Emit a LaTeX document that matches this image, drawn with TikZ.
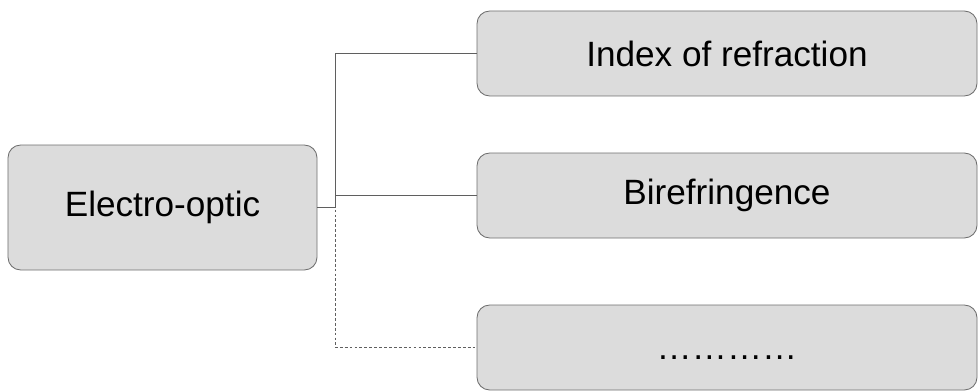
\documentclass[tikz,border=0pt]{standalone}
\usepackage{fontspec}
\setmainfont{Liberation Sans}
\definecolor{boxgray}{RGB}{220, 220, 220}
\definecolor{edgegray}{RGB}{110, 110, 110}
\definecolor{linegray}{RGB}{95, 95, 95}
\usetikzlibrary{positioning, calc}

\begin{document}
\begin{tikzpicture}[
  gbox/.style={draw=edgegray, fill=boxgray, rounded corners=9pt, line width=0.6pt, align=center, font=\fontsize{25}{30}\selectfont, inner sep=0pt},
  link/.style={draw=linegray, line width=0.5pt}
]
  \useasboundingbox (0, 0) rectangle (24.45, 9.75);

  \node[gbox, minimum width=7.725cm, minimum height=3.125cm] (eo) at (4.0625, 4.5625) {Electro-optic};

  \node[gbox, minimum width=12.5cm, minimum height=2.125cm] (idx) at (18.175, 8.4125) {Index of refraction};
  \node[gbox, minimum width=12.5cm, minimum height=2.125cm] (bir) at (18.175, 4.8625) {Birefringence};
  \node[gbox, minimum width=12.5cm, minimum height=2.125cm] (etc) at (18.175, 1.0625) {\vphantom{I}…………};

  \coordinate (jn) at (8.375, 4.5625);

  \draw[link] (eo.east) -- (jn) |- (idx.west);
  \draw[link] (jn |- bir.west) -- (bir.west);
  \draw[link, dashed, dash pattern=on 2pt off 1.5pt] (eo.east) -- (jn) |- (etc.west);
\end{tikzpicture}
\end{document}
